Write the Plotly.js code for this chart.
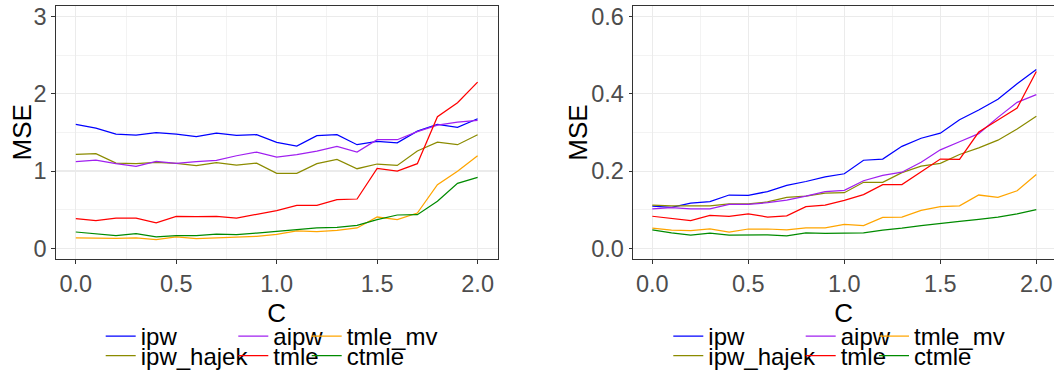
<!DOCTYPE html>
<html><head><meta charset="utf-8">
<script src="https://cdn.plot.ly/plotly-3.0.1.min.js"></script>
<style>html,body{margin:0;padding:0;overflow:hidden;background:#fff}</style>
</head><body><div id="chart" style="width:1054px;height:400px"></div>
<script>
// ---------- data ----------
const C = [0.0,0.1,0.2,0.3,0.4,0.5,0.6,0.7,0.8,0.9,1.0,1.1,1.2,1.3,1.4,1.5,1.6,1.7,1.8,1.9,2.0];
const methods = ['ipw','ipw_hajek','aipw','tmle','tmle_mv','ctmle'];
const colors  = ['#0000FF','#8B8B00','#A020F0','#FF0000','#FFA500','#008B00'];

// left panel
const leftIpw      = [1.603,1.556,1.478,1.466,1.496,1.478,1.444,1.491,1.461,1.470,1.371,1.323,1.457,1.470,1.341,1.384,1.366,1.517,1.603,1.565,1.677];
const leftIpwHajek = [1.216,1.224,1.103,1.095,1.112,1.099,1.069,1.108,1.078,1.103,0.970,0.970,1.095,1.151,1.030,1.091,1.073,1.259,1.375,1.341,1.470];
const leftAipw     = [1.121,1.142,1.095,1.060,1.125,1.099,1.121,1.138,1.198,1.246,1.181,1.211,1.259,1.319,1.246,1.405,1.405,1.509,1.595,1.634,1.655];
const leftTmle     = [0.384,0.358,0.392,0.392,0.328,0.414,0.409,0.414,0.392,0.435,0.487,0.556,0.556,0.629,0.638,1.034,1.000,1.095,1.703,1.884,2.151];
const leftTmleMv   = [0.134,0.129,0.129,0.134,0.112,0.147,0.125,0.134,0.142,0.155,0.181,0.224,0.216,0.233,0.263,0.405,0.371,0.457,0.823,0.996,1.198];
const leftCtmle    = [0.211,0.185,0.164,0.190,0.147,0.164,0.164,0.185,0.177,0.198,0.216,0.241,0.263,0.272,0.297,0.371,0.431,0.435,0.608,0.841,0.918];

// right panel
const rightIpw      = [0.109,0.106,0.117,0.121,0.138,0.137,0.147,0.163,0.173,0.185,0.193,0.228,0.231,0.264,0.285,0.298,0.333,0.358,0.386,0.426,0.463];
const rightIpwHajek = [0.112,0.110,0.110,0.110,0.115,0.115,0.120,0.132,0.135,0.143,0.144,0.171,0.171,0.196,0.213,0.220,0.243,0.260,0.280,0.309,0.342];
const rightAipw     = [0.102,0.105,0.102,0.102,0.114,0.114,0.118,0.125,0.135,0.147,0.150,0.175,0.189,0.197,0.223,0.255,0.276,0.297,0.339,0.378,0.398];
const rightTmle     = [0.083,0.077,0.072,0.085,0.083,0.089,0.081,0.084,0.108,0.112,0.124,0.139,0.165,0.165,0.197,0.231,0.230,0.301,0.332,0.363,0.458];
const rightTmleMv   = [0.052,0.047,0.046,0.050,0.042,0.050,0.050,0.048,0.053,0.053,0.062,0.059,0.080,0.081,0.098,0.108,0.110,0.138,0.132,0.149,0.191];
const rightCtmle    = [0.048,0.040,0.034,0.039,0.034,0.035,0.035,0.032,0.040,0.039,0.039,0.040,0.047,0.052,0.059,0.065,0.070,0.075,0.081,0.089,0.100];

const xTicks = [0,0.5,1,1.5,2];
const yTicksLeft = [0,1,2,3];
const yTicksRight = [0,0.2,0.4,0.6];
const xTitle = 'C';
const yTitle = 'MSE';

// ---------- layout helpers ----------
const W = 1054, H = 400;
const FONT = 'Liberation Sans, Arial, Helvetica, sans-serif';
const leftData = [leftIpw,leftIpwHajek,leftAipw,leftTmle,leftTmleMv,leftCtmle];
const rightData = [rightIpw,rightIpwHajek,rightAipw,rightTmle,rightTmleMv,rightCtmle];
const colOf = [0,0,1,1,2,2], rowOf = [0,1,0,1,0,1];
const legTextXLeft = [140.7,273.3,346.7], legTextXRight = [708.3,840.7,914];
const legRowY = [336.5,356];

const traces = [];
const legends = {};
function addPanel(data, xa, ya, legOffset, textX){
  methods.forEach((m,i)=>{
    const key = (legOffset+i===0) ? 'legend' : 'legend'+(legOffset+i+1);
    traces.push({x:C, y:data[i], xaxis:xa, yaxis:ya, type:'scatter', mode:'lines',
      name:m, legend:key, showlegend:true, hoverinfo:'skip',
      line:{color:colors[i], width:1.25}});
    legends[key] = {x:(textX[colOf[i]]-40)/W, y:(H-legRowY[rowOf[i]])/H,
      xanchor:'left', yanchor:'middle', orientation:'v', bgcolor:'rgba(0,0,0,0)',
      borderwidth:0, font:{family:FONT, size:24, color:'#000'}};
  });
}
addPanel(leftData,'x','y',0,legTextXLeft);
addPanel(rightData,'x2','y2',6,legTextXRight);

const grid = {showgrid:true, gridcolor:'#EBEBEB', gridwidth:1.1, zeroline:false,
  showline:true, linecolor:'#333333', linewidth:1, ticks:'outside', ticklen:3.5,
  tickwidth:1, tickcolor:'#333333', automargin:false,
  tickfont:{family:FONT, size:23.5, color:'#4D4D4D'}};
const yDom = [(H-259.2)/H, (H-6.3)/H];

const annotations = [21.7, 578].map(px => ({
  xref:'paper', yref:'paper', x:px/W, y:(H-132.7)/H, xanchor:'center', yanchor:'middle',
  text:yTitle, textangle:-90, showarrow:false, font:{family:FONT, size:26, color:'#000'}
}));

const layout = Object.assign({
  width:W, height:H, margin:{l:0,r:0,t:0,b:0},
  paper_bgcolor:'#fff', plot_bgcolor:'#fff', showlegend:true,
  font:{family:FONT}, annotations:annotations,
  xaxis: Object.assign({}, grid, {domain:[55.7/W, 497.7/W], range:[-0.1,2.1], anchor:'y',
    tickvals:xTicks, tickformat:'.1f', mirror:true,
    minor:{dtick:0.25, tick0:0, showgrid:true, gridcolor:'#EBEBEB', gridwidth:0.6, ticks:''},
    title:{text:xTitle, font:{family:FONT, size:26, color:'#000'}, standoff:7}}),
  yaxis: Object.assign({}, grid, {domain:yDom, range:[-0.141,3.132], anchor:'x',
    tickvals:yTicksLeft, tickformat:'d', mirror:true,
    minor:{dtick:0.5, tick0:0, showgrid:true, gridcolor:'#EBEBEB', gridwidth:0.6, ticks:''}}),
  xaxis2: Object.assign({}, grid, {domain:[633.1/W, 1], range:[-0.1,2.092], anchor:'y2',
    tickvals:xTicks, tickformat:'.1f', mirror:true,
    minor:{dtick:0.25, tick0:0, showgrid:true, gridcolor:'#EBEBEB', gridwidth:0.6, ticks:''},
    title:{text:xTitle, font:{family:FONT, size:26, color:'#000'}, standoff:7}}),
  yaxis2: Object.assign({}, grid, {domain:yDom, range:[-0.0282,0.6266], anchor:'x2',
    tickvals:yTicksRight, tickformat:'.1f', mirror:false,
    minor:{dtick:0.1, tick0:0, showgrid:true, gridcolor:'#EBEBEB', gridwidth:0.6, ticks:''}})
}, legends);

Plotly.newPlot('chart', traces, layout, {displayModeBar:false, staticPlot:true});
</script></body></html>
